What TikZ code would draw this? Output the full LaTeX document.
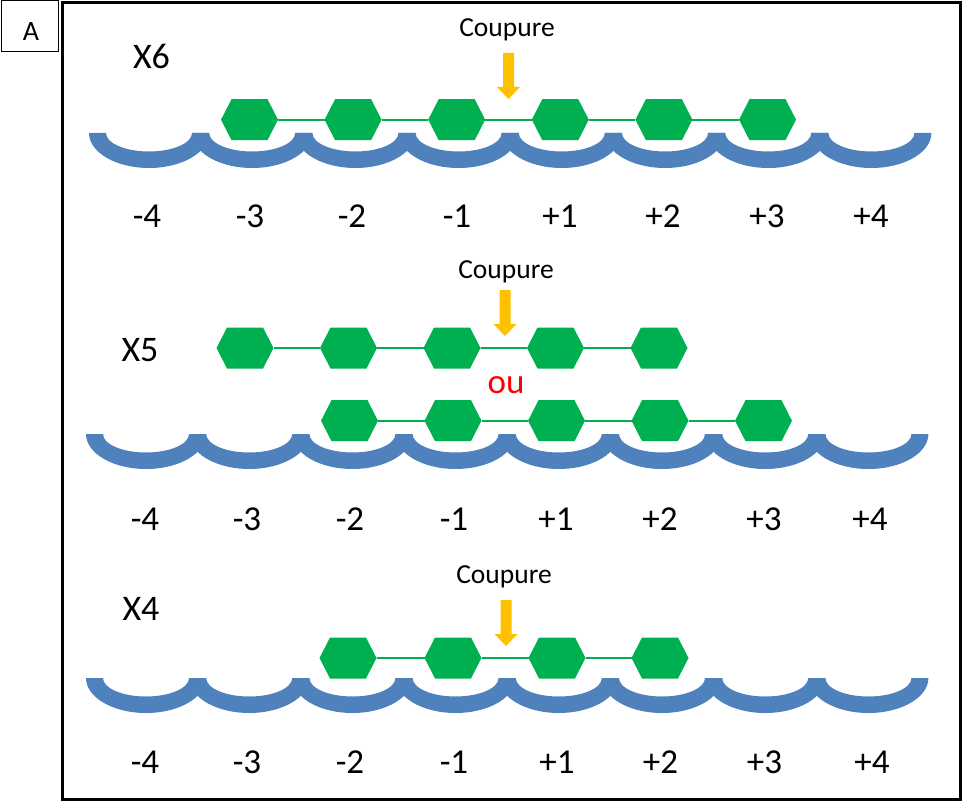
\documentclass[tikz,border=0pt]{standalone}
\usepackage{fontspec}
\setmainfont{Carlito}
\definecolor{arcblue}{HTML}{4F81BD}
\definecolor{hexgreen}{HTML}{00B050}
\definecolor{cutorange}{HTML}{FFC000}
\newcommand\myseatarc[2]{%
  \fill[arcblue] (#1-60,#2) arc[start angle=180,end angle=360,x radius=60,y radius=35]
    -- (#1+43,#2) arc[start angle=0,end angle=-180,x radius=43,y radius=18.5] -- cycle;}
\newcommand\myhexfill[1]{%
  \fill[hexgreen] (#1.west) -- ([xshift=10.5pt]#1.north west) -- ([xshift=-10.5pt]#1.north east)
    -- (#1.east) -- ([xshift=-10.5pt]#1.south east) -- ([xshift=10.5pt]#1.south west) -- cycle;}
\tikzset{
  hexbox/.style={minimum width=57pt,minimum height=41pt,inner sep=0pt,outer sep=0pt},
  link/.style={hexgreen,line width=1.7pt},
  numlbl/.style={anchor=base,inner sep=0pt,font=\fontsize{35}{40}\selectfont},
  rowlbl/.style={anchor=base,inner sep=0pt,font=\fontsize{36}{40}\selectfont},
  cutlbl/.style={anchor=base,inner sep=0pt,font=\fontsize{27.5}{30}\selectfont},
  orlbl/.style={anchor=base,inner sep=0pt,text=red,font=\fontsize{35}{40}\selectfont},
  cutarrow/.pic={\fill[cutorange] (-5.5,0) -- (5.5,0) -- (5.5,-34) -- (11.5,-34) -- (0,-46) -- (-11.5,-34) -- (-5.5,-34) -- cycle;}
}
\begin{document}
\begin{tikzpicture}[x=1pt,y=1pt]
\useasboundingbox (0,0) rectangle (963,-802);
% panel label
\node[draw,line width=1pt,minimum width=57pt,minimum height=51pt,inner sep=0pt] (panel) at (29.5,-26.5) {};
\node[anchor=base,inner sep=0pt,font=\fontsize{28}{30}\selectfont] (panelA) at (31,-41) {A};
\draw[line width=3pt] (62.5,-2.5) rectangle (960,-799.5);

% ---------- Row X6 ----------
\foreach \k in {0,...,7}{\pgfmathsetmacro\cx{149+103.2*\k}\myseatarc{\cx}{-133}}
\foreach \t/\x [count=\i] in {-4/147,-3/250,-2/352,-1/457,+1/560,+2/663,+3/767,+4/871}
  {\node[numlbl] (ra-l\i) at (\x,-228) {\t};}
\foreach \x [count=\i] in {249.5,353.1,456.7,560.3,663.9,767.5}
  {\node[hexbox] (ra\i) at (\x,-119.7) {};}
\foreach \i/\j in {1/2,2/3,3/4,4/5,5/6}{\draw[link] (ra\i) -- (ra\j);}
\foreach \i in {1,...,6}{\myhexfill{ra\i}}
\node[rowlbl] (xsix) at (151.5,-69) {X6};
\node[cutlbl] (cuta) at (507,-37) {Coupure};
\pic at (508.5,-53) {cutarrow};

% ---------- Row X5 ----------
\foreach \k in {0,...,7}{\pgfmathsetmacro\cx{146+103.2*\k}\myseatarc{\cx}{-434}}
\foreach \t/\x [count=\i] in {-4/145,-3/247,-2/350,-1/454,+1/556,+2/660,+3/764,+4/870}
  {\node[numlbl] (rb-l\i) at (\x,-530) {\t};}
\foreach \x [count=\i] in {245,348.5,452,555.5,659}
  {\node[hexbox] (rb\i) at (\x,-348) {};}
\foreach \i/\j in {1/2,2/3,3/4,4/5}{\draw[link] (rb\i) -- (rb\j);}
\foreach \i in {1,...,5}{\myhexfill{rb\i}}
\foreach \x [count=\i] in {349.5,453,556.5,660,763.5}
  {\node[hexbox] (rc\i) at (\x,-420.7) {};}
\foreach \i/\j in {1/2,2/3,3/4,4/5}{\draw[link] (rc\i) -- (rc\j);}
\foreach \i in {1,...,5}{\myhexfill{rc\i}}
\node[rowlbl] (xfive) at (140,-361) {X5};
\node[cutlbl] (cutb) at (506,-278.5) {Coupure};
\pic at (505,-290) {cutarrow};
\node[orlbl] (ou) at (506,-393) {ou};

% ---------- Row X4 ----------
\foreach \k in {0,...,7}{\pgfmathsetmacro\cx{146+103.2*\k}\myseatarc{\cx}{-678}}
\foreach \t/\x [count=\i] in {-4/145,-3/247,-2/350,-1/454,+1/557,+2/660.5,+3/764.5,+4/872}
  {\node[numlbl] (rd-l\i) at (\x,-773) {\t};}
\foreach \x [count=\i] in {348,453,557,660}
  {\node[hexbox] (rd\i) at (\x,-658) {};}
\foreach \i/\j in {1/2,2/3,3/4}{\draw[link] (rd\i) -- (rd\j);}
\foreach \i in {1,...,4}{\myhexfill{rd\i}}
\node[rowlbl] (xfour) at (141,-620) {X4};
\node[cutlbl] (cutc) at (504,-583) {Coupure};
\pic at (506,-600) {cutarrow};
\end{tikzpicture}
\end{document}
